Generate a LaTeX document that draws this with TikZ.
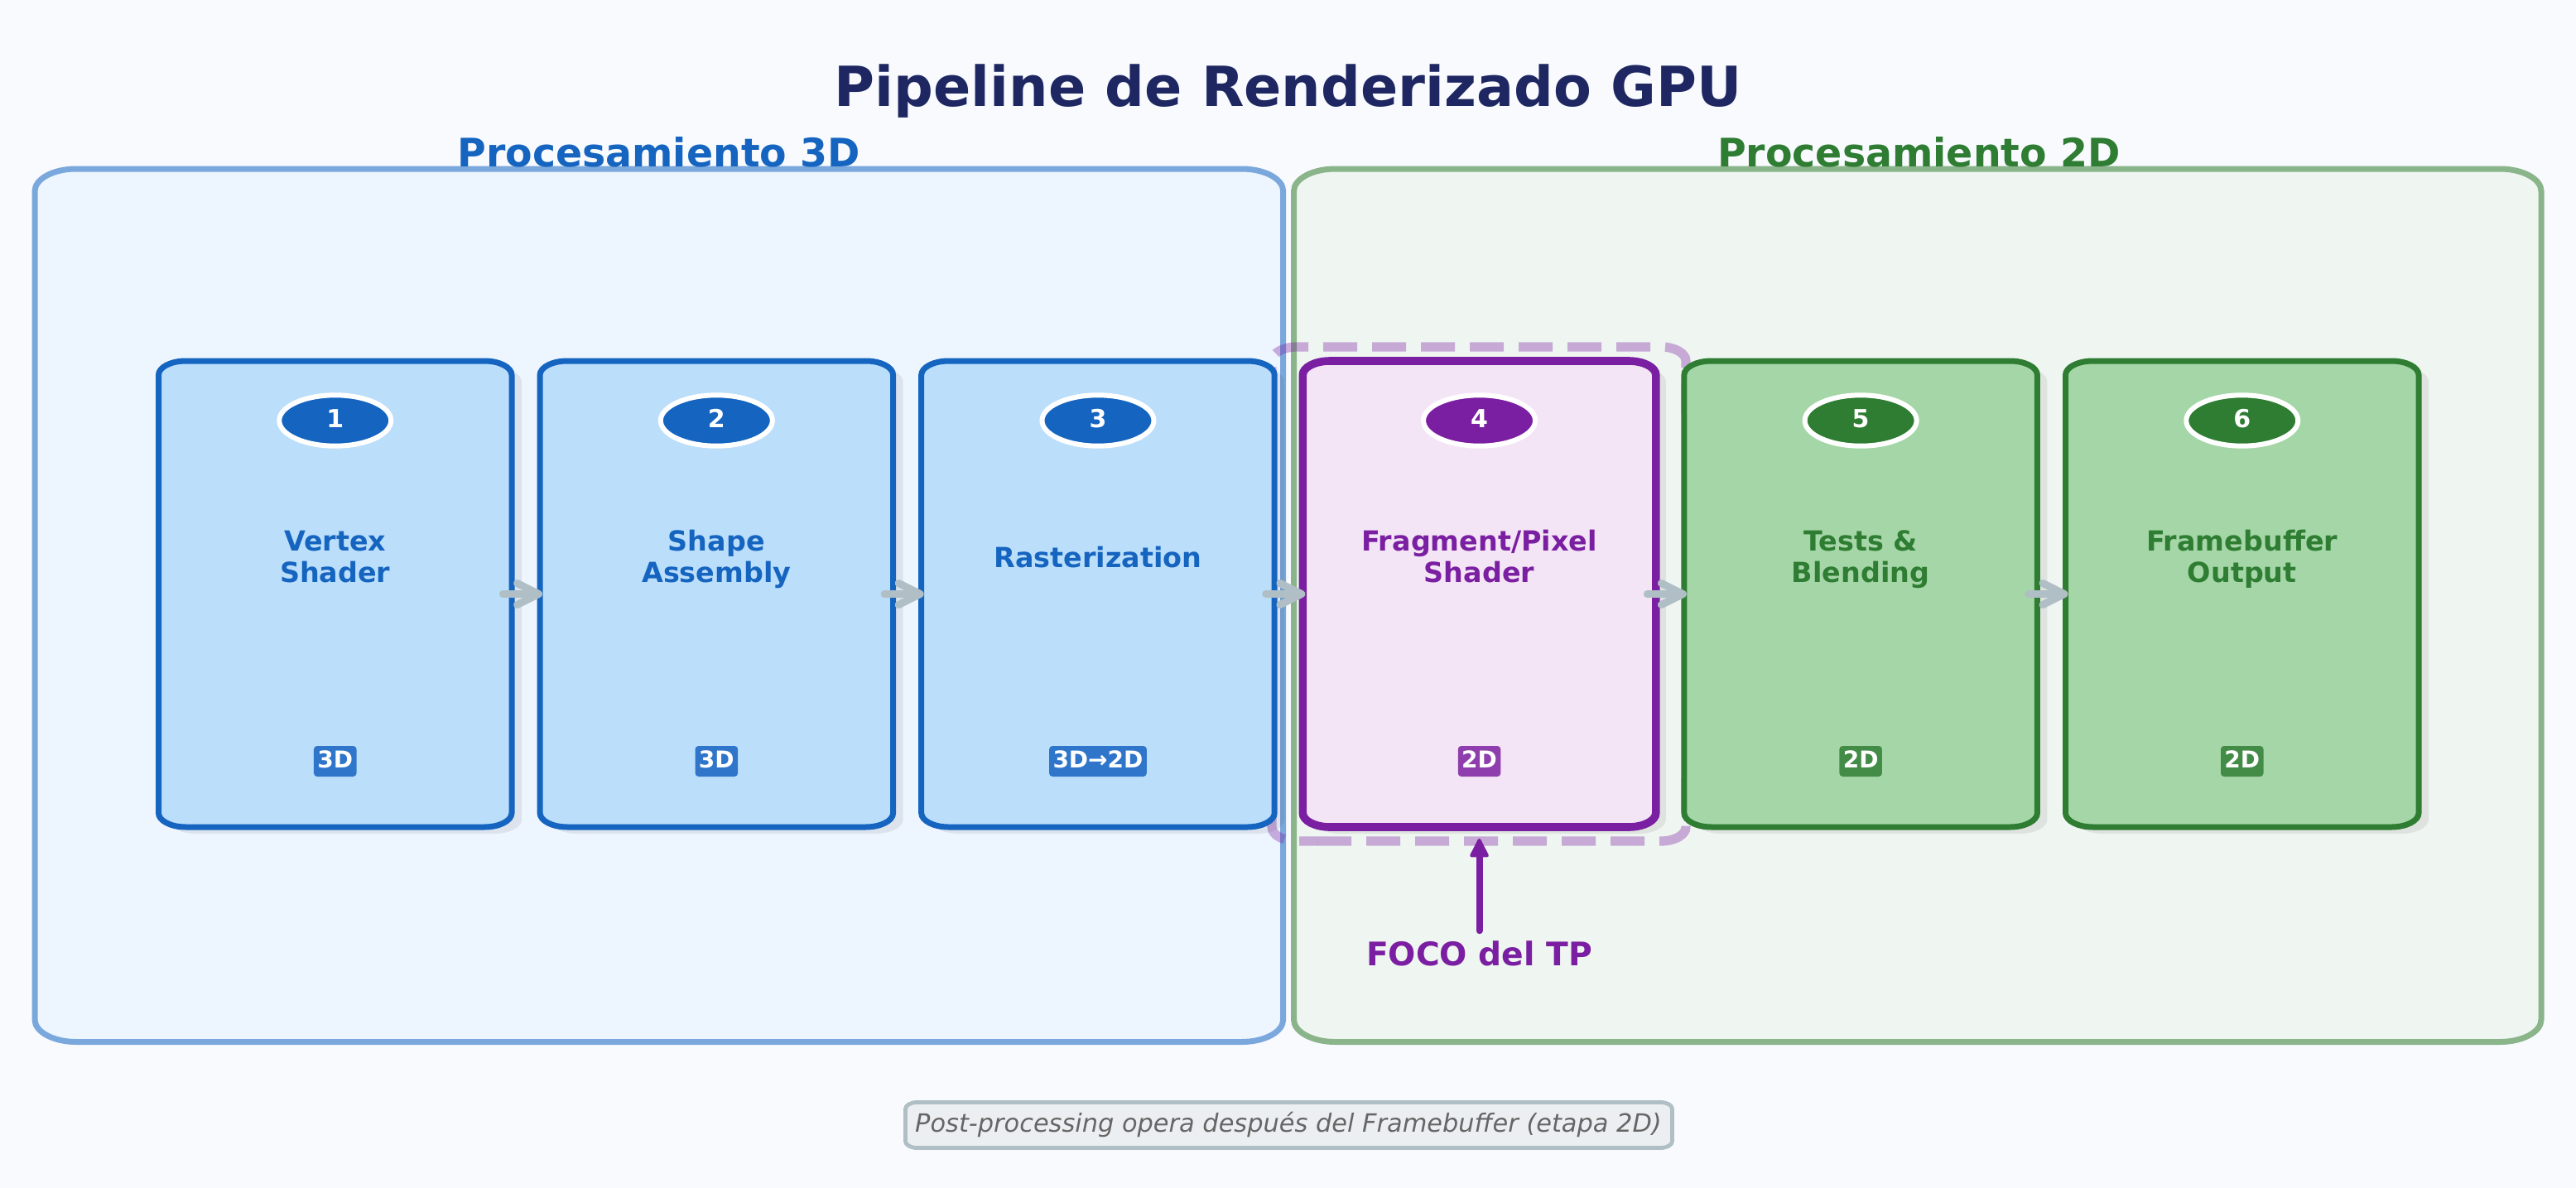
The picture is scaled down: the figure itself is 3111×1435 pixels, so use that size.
\documentclass[tikz,border=0pt]{standalone}
\usepackage{fontspec}
\setmainfont{DejaVu Sans}
\usetikzlibrary{arrows.meta,shapes.geometric}
\definecolor{bgc}{HTML}{F8FAFE}
\definecolor{titlec}{HTML}{1E2761}
\definecolor{bluec}{HTML}{1565C0}
\definecolor{bluef}{HTML}{BBDEFB}
\definecolor{blueb}{HTML}{2F76CB}
\definecolor{greenc}{HTML}{2E7D32}
\definecolor{greenf}{HTML}{A5D6A7}
\definecolor{greenb}{HTML}{438C47}
\definecolor{purc}{HTML}{7B1FA2}
\definecolor{purf}{HTML}{F3E5F5}
\definecolor{purb}{HTML}{8E3FAD}
\definecolor{panelbl}{HTML}{7BA8DC}
\definecolor{panelbf}{HTML}{EDF5FE}
\definecolor{panelgl}{HTML}{8AB48A}
\definecolor{panelgf}{HTML}{EFF5F1}
\definecolor{arrc}{HTML}{B0BEC5}
\definecolor{footf}{HTML}{ECEFF1}
\definecolor{foott}{HTML}{666666}
\newcommand{\erect}[7]{\path[#1] ({#2+#6},#3) -- ({#4-#6},#3) .. controls ({#4-0.4477*#6},#3) and (#4,{#3+0.4477*#7}) .. (#4,{#3+#7}) -- (#4,{#5-#7}) .. controls (#4,{#5-0.4477*#7}) and ({#4-0.4477*#6},#5) .. ({#4-#6},#5) -- ({#2+#6},#5) .. controls ({#2+0.4477*#6},#5) and (#2,{#5-0.4477*#7}) .. (#2,{#5-#7}) -- (#2,{#3+#7}) .. controls (#2,{#3+0.4477*#7}) and ({#2+0.4477*#6},#3) .. ({#2+#6},#3) -- cycle;}
\tikzset{
  stagenode/.style={inner sep=0pt,outer sep=0pt,minimum width=213.25pt,minimum height=281.5pt},
  titletext/.style={anchor=base,font=\fontsize{33.4}{40}\selectfont\bfseries,text=titlec,inner sep=0pt},
  grouptext/.style={anchor=base,font=\fontsize{23.7}{28}\selectfont\bfseries,inner sep=0pt},
  stagetext/.style={anchor=base,align=center,font=\fontsize{16.7}{18.85}\selectfont\bfseries,inner sep=0pt},
  numnode/.style={ellipse,draw=white,line width=3pt,minimum width=67.5pt,minimum height=30.7pt,inner sep=0pt,text=white,font=\fontsize{15}{18}\selectfont\bfseries,text height=10.9pt,text depth=2.2pt},
  badgenode/.style={anchor=base,rounded corners=2pt,inner xsep=2.2pt,inner ysep=0pt,text=white,font=\fontsize{14}{17}\selectfont\bfseries,text height=13pt,text depth=5.5pt},
  flowarrow/.style={draw=arrc,line width=4.5pt,line cap=round,-{Straight Barb[length=13pt,width=13pt,round]}},
  focoarrow/.style={draw=purc,line width=4pt,line cap=round,-{Triangle[length=12.5pt,width=12pt,round,line width=2pt]}},
  focusdash/.style={draw=purc,draw opacity=0.35,line width=5.6pt,dash pattern=on 20.5pt off 9pt},
}
\begin{document}
\begin{tikzpicture}[x=0.5pt,y=-0.5pt]
\useasboundingbox (0,0) rectangle (3111,1435);
\fill[bgc] (0,0) rectangle (3111,1435);
% panels
\erect{fill=panelbf,draw=panelbl,line width=3.5pt}{42}{204}{1549.7}{1258.5}{50}{27}
\erect{fill=panelgf,draw=panelgl,line width=3.5pt}{1562.5}{204}{3069}{1258.5}{50}{27}
% titles
\node[titletext] (title) at (1555.5,128) {Pipeline de Renderizado GPU};
\node[grouptext,text=bluec] (g3d) at (795.8,201) {Procesamiento 3D};
\node[grouptext,text=greenc] (g2d) at (2317.5,201) {Procesamiento 2D};
% focus frame (its upright sides lie behind stages 3 and 5)
\draw[focusdash,dash phase=0pt] (1598,419) -- (2006,419) .. controls (2022.6,419) and (2036,426.6) .. (2036,436) -- (2036,500);
\draw[focusdash,dash phase=20.5pt] (1598,419) -- (1566,419) .. controls (1549.4,419) and (1536,426.6) .. (1536,436) -- (1536,500);
\draw[focusdash,dash phase=0pt] (1591,1016) -- (2006,1016) .. controls (2022.6,1016) and (2036,1008.4) .. (2036,999) -- (2036,940);
\draw[focusdash,dash phase=9.5pt] (1591,1016) -- (1566,1016) .. controls (1549.4,1016) and (1536,1008.4) .. (1536,999) -- (1536,940);
% stages
\foreach \i/\xl/\cc/\ff/\lw in {1/191.5/bluec/bluef/3.5pt,2/652.1/bluec/bluef/3.5pt,3/1112.7/bluec/bluef/3.5pt,4/1573.3/purc/purf/4.8pt,5/2033.9/greenc/greenf/3.5pt,6/2494.5/greenc/greenf/3.5pt}{
  \pgfmathsetmacro\xr{\xl+426.5}
  \pgfmathsetmacro\xc{\xl+213.25}
  \pgfmathsetmacro\sxl{\xl+12}
  \pgfmathsetmacro\sxr{\xr+12}
  \erect{fill=black,fill opacity=0.07}{\sxl}{444}{\sxr}{1007}{33}{17}
  \erect{fill=\ff,draw=\cc,line width=\lw}{\xl}{436}{\xr}{999}{33}{17}
  \node[stagenode] (s\i) at (\xc,717.5) {};
  \node[numnode,fill=\cc] (n\i) at (\xc,508) {\i};
}
% stage texts
\node[stagetext,text=bluec] (t1) at (s1.center |- 0,703) {Vertex\\Shader};
\node[stagetext,text=bluec] (t2) at (s2.center |- 0,703) {Shape\\Assembly};
\node[stagetext,text=bluec] (t3) at (s3.center |- 0,685) {Rasterization};
\node[stagetext,text=purc] (t4) at (s4.center |- 0,703) {Fragment/Pixel\\Shader};
\node[stagetext,text=greenc] (t5) at (s5.center |- 0,703) {Tests \&\\Blending};
\node[stagetext,text=greenc] (t6) at (s6.center |- 0,703) {Framebuffer\\Output};
% badges
\node[badgenode,fill=blueb] (b1) at (s1.center |- 0,927) {3D};
\node[badgenode,fill=blueb] (b2) at (s2.center |- 0,927) {3D};
\node[badgenode,fill=blueb] (b3) at (s3.center |- 0,927) {3D→2D};
\node[badgenode,fill=purb] (b4) at (s4.center |- 0,927) {2D};
\node[badgenode,fill=greenb] (b5) at (s5.center |- 0,927) {2D};
\node[badgenode,fill=greenb] (b6) at (s6.center |- 0,927) {2D};
% flow connectors
\draw[flowarrow] ([xshift=-5.25pt]s1.east) -- ([xshift=1.5pt]s2.west);
\draw[flowarrow] ([xshift=-5.25pt]s2.east) -- ([xshift=1.5pt]s3.west);
\draw[flowarrow] ([xshift=-5.25pt]s3.east) -- ([xshift=1.5pt]s4.west);
\draw[flowarrow] ([xshift=-5.25pt]s4.east) -- ([xshift=1.5pt]s5.west);
\draw[flowarrow] ([xshift=-5.25pt]s5.east) -- ([xshift=1.5pt]s6.west);
% focus label
\node[anchor=base,inner sep=0pt,font=\fontsize{19.6}{24}\selectfont\bfseries,text=purc] (foco) at (s4.center |- 0,1166) {FOCO del TP};
\draw[focoarrow] ([yshift=5.8pt]foco.north) -- ([yshift=-7pt]s4.south);
% footer
\erect{fill=footf,draw=arrc,line width=2.4pt}{1093.5}{1331.5}{2019.5}{1386.5}{14}{8}
\node[anchor=base,inner sep=0pt,font=\fontsize{15.2}{18}\selectfont\itshape,text=foott] (foot) at (1556,1367.5) {Post-processing opera después del Framebuffer (etapa 2D)};
\end{tikzpicture}
\end{document}
